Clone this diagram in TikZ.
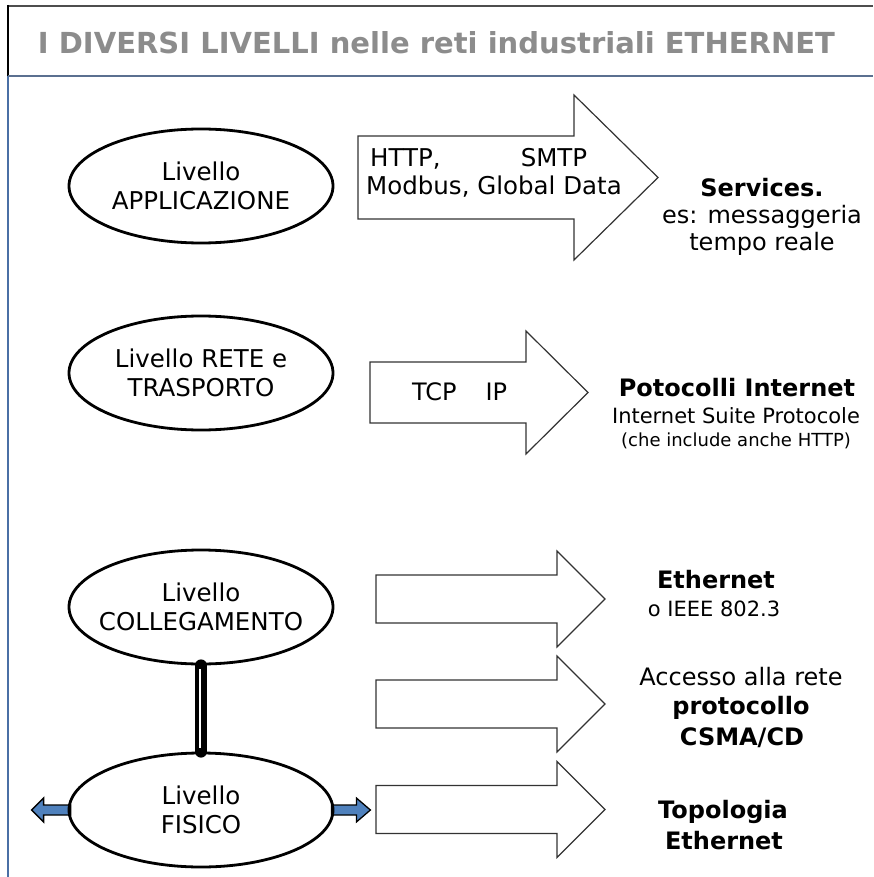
\documentclass[tikz,border=0pt]{standalone}
\usepackage{fontspec}
\setmainfont{DejaVu Sans}
\usetikzlibrary{shapes.geometric,backgrounds}

\definecolor{titlegray}{HTML}{8C8C8C}
\definecolor{rulegray}{HTML}{4D4D4D}
\definecolor{ruleblue}{HTML}{5B7090}
\definecolor{sideblue}{HTML}{4A6FA5}
\definecolor{arrowblue}{HTML}{4F81BD}
\definecolor{outline}{HTML}{333333}

% block arrow: name, left x, neck x, tip x, centre y, shaft half-height, head half-height
\newcommand\blockarrow[7]{%
  \draw[boxarrow] ({#2},{#5-#6}) coordinate (#1-nw) -- ({#3},{#5-#6}) -- ({#3},{#5-#7})
    -- ({#4},{#5}) coordinate (#1-tip) -- ({#3},{#5+#7}) -- ({#3},{#5+#6})
    -- ({#2},{#5+#6}) coordinate (#1-sw) -- cycle;}

\begin{document}
\begin{tikzpicture}[x=1pt,y=-1pt,
  level/.style={ellipse, draw, line width=2.8, minimum width=264, minimum height=114,
    inner sep=0},
  leveltxt/.style={inner sep=0, align=center, font=\fontsize{24.5}{29}\selectfont},
  boxarrow/.style={draw=outline, line width=1.2, fill=white},
  txt/.style={anchor=base, inner sep=0, font=\fontsize{24}{28}\selectfont},
  txtsmall/.style={anchor=base, inner sep=0, font=\fontsize{21}{25}\selectfont},
  txttiny/.style={anchor=base, inner sep=0, font=\fontsize{18}{22}\selectfont},
  bluearrow/.style={fill=arrowblue, draw=black, line width=1.3, line join=miter}]
\useasboundingbox (0,0) rectangle (873,877);

% header frame
\draw[rulegray, line width=2] (7,6) -- (873,6);
\draw[black, line width=2] (8,5) -- (8,76);
\draw[sideblue, line width=1.5] (8,76) -- (8,877);
\draw[ruleblue, line width=2.5] (8,76) -- (873,76);
\node[anchor=base, inner sep=0, text=titlegray] (title) at (436.5,54)
  {\resizebox{797pt}{22pt}{\bfseries I DIVERSI LIVELLI nelle reti industriali ETHERNET}};

% levels
\node[level] (app) at (201,186) {};
\node[leveltxt] (app-t) at (app) {Livello\\APPLICAZIONE};
\node[level] (rete) at (201,373) {};
\node[leveltxt] (rete-t) at (rete) {Livello RETE e\\TRASPORTO};
\node[level] (coll) at (201,607) {};
\node[leveltxt] (coll-t) at (coll) {Livello\\COLLEGAMENTO};
\node[level] (fis) at (201,810) {};
\node[leveltxt] (fis-t) at (fis) {Livello\\FISICO};

% link between the two lower levels
\draw[line width=12, line cap=round] (coll.south) -- (fis.north);
\draw[white, line width=2.5] ([xshift=-1pt,yshift=-4pt]coll.south) -- ([xshift=-1pt,yshift=4pt]fis.north);

% physical medium arrows
\begin{scope}[on background layer]
  \draw[bluearrow] (fis.west) ++(3,-5) -- ++(-27,0) -- ++(0,-7) -- ++(-12,12)
    -- ++(12,12) -- ++(0,-7) -- ++(27,0) -- cycle;
  \draw[bluearrow] (fis.east) ++(-3,-5) -- ++(25,0) -- ++(0,-7) -- ++(14,12)
    -- ++(-14,12) -- ++(0,-7) -- ++(-25,0) -- cycle;
\end{scope}

% block arrows
\blockarrow{a1}{358}{574}{658}{177.5}{41.5}{82.5}
\blockarrow{a2}{370}{526}{588}{392.5}{30.5}{61.5}
\blockarrow{a3}{376}{557}{605}{599}{24}{48}
\blockarrow{a4}{376}{557}{605}{704}{24}{48}
\blockarrow{a5}{376}{557}{605}{809.5}{24}{48}

% texts inside the arrows
\node[txt, anchor=base west, font=\fontsize{24.5}{28}\selectfont] (http) at (370,167) {\makebox[217pt][l]{HTTP,\hfill SMTP}};
\node[txt, anchor=base west, font=\fontsize{24.5}{28}\selectfont] (modbus) at (366,195) {Modbus, Global Data};
\node[txt, anchor=base west] (tcp) at (412,400) {\makebox[95pt][l]{TCP\hfill IP}};

% descriptions
\node[txt] (serv) at (762,197) {\bfseries Services.};
\node[txt] (serv2) at (762,224) {es: messaggeria};
\node[txt] (serv3) at (762,250) {tempo reale};

\node[txt] (inet) at (737,396) {\bfseries Potocolli Internet};
\node[txtsmall] (inet2) at (736,423) {Internet Suite Protocole};
\node[txttiny] (inet3) at (736,446) {(che include anche HTTP)};

\node[txt] (eth) at (716,588) {\bfseries Ethernet};
\node[txtsmall] (eth2) at (714,616) {o IEEE 802.3};

\node[txt] (acc) at (741,685) {Accesso alla rete};
\node[txt] (acc2) at (741,714) {\bfseries protocollo};
\node[txt] (acc3) at (742,745) {\bfseries CSMA/CD};

\node[txt] (topo) at (723,818) {\bfseries Topologia};
\node[txt] (topo2) at (724,849) {\bfseries Ethernet};
\end{tikzpicture}
\end{document}
